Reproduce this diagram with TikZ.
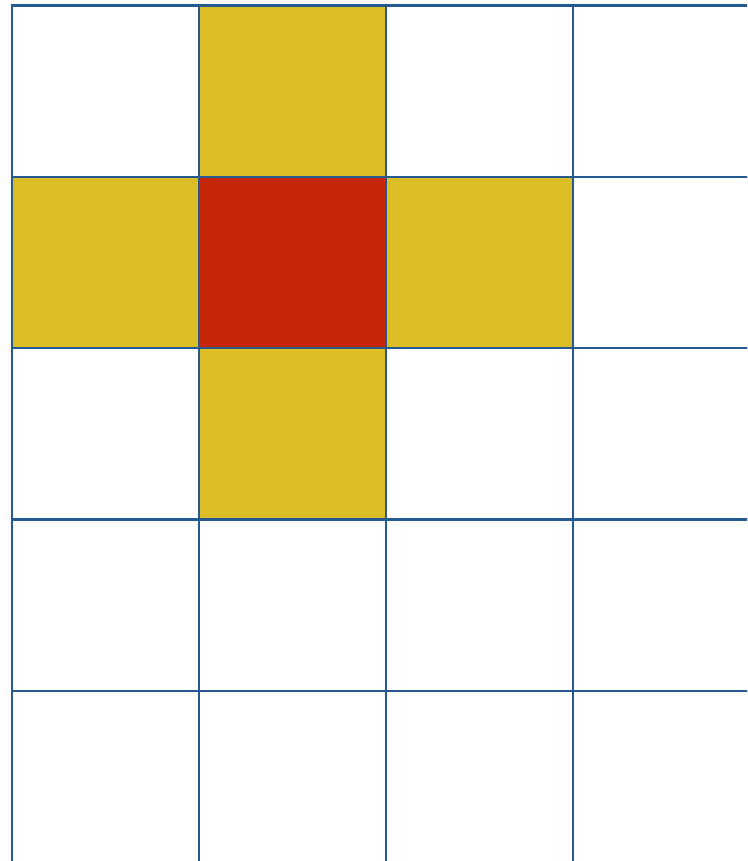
\documentclass[tikz,border=0pt]{standalone}
\usepackage{xcolor}
\usepackage{tikz}

\definecolor{gridblue}{HTML}{245A8F}
\definecolor{nbyellow}{HTML}{DBBD25}
\definecolor{cellred}{HTML}{C72608}

\begin{document}
\begin{tikzpicture}[
    x=0.02cm, y=-0.02cm,
    cell/.style={draw=gridblue, line width=0.048cm},
    neighbour/.style={cell, fill=nbyellow},
    centre/.style={cell, fill=cellred}
]
\clip (0,0) rectangle (747,861);

% Grid of empty cells (runs on past the bottom and right edges)
\foreach \r in {0,...,5} {
    \foreach \c in {0,...,3} {
        \draw[cell] ({12+187*\c},{5.5+171.3*\r}) rectangle ++(187,171.3);
    }
}

% Neighbourhood
\draw[neighbour] (199,5.5) rectangle ++(187,171.3);
\draw[neighbour] (12,176.8) rectangle ++(187,171.3);
\draw[neighbour] (386,176.8) rectangle ++(187,171.3);
\draw[neighbour] (199,348.1) rectangle ++(187,171.3);

% Centre cell
\draw[centre] (199,176.8) rectangle ++(187,171.3);

\end{tikzpicture}
\end{document}
